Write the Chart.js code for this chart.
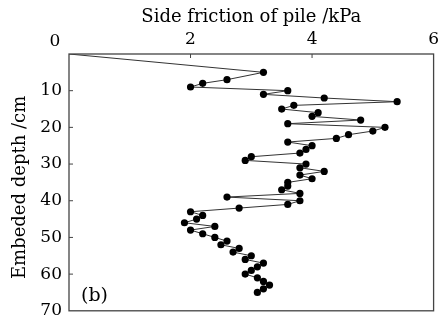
<!DOCTYPE html>
<html>
<head>
<meta charset="utf-8">
<script src="https://cdn.jsdelivr.net/npm/chart.js@4.4.0/dist/chart.umd.min.js"></script>
<style>
  html, body { margin: 0; padding: 0; background: #fff; }
  #wrap { width: 443px; height: 328px; }
</style>
</head>
<body>
<div id="wrap"><canvas id="chart"></canvas></div>
<script>
// embedded depth (cm) and side friction (kPa)
const depth = [0, 5, 7, 8, 9, 10, 11, 12, 13, 14, 15, 16, 17, 18, 19, 20,
  21, 22, 23, 24, 25, 26, 27, 28, 29, 30, 31, 32, 33, 34, 35, 36, 37, 38,
  39, 40, 41, 42, 43, 44, 45, 46, 47, 48, 49, 50, 51, 52, 53, 54, 55, 56,
  57, 58, 59, 60, 61, 62, 63, 64, 65];
const friction = [0, 3.2, 2.6, 2.2, 2.0, 3.6, 3.2, 4.2, 5.4, 3.7, 3.5, 4.1,
  4.0, 4.8, 3.6, 5.2, 5.0, 4.6, 4.4, 3.6, 4.0, 3.9, 3.8, 3.0, 2.9, 3.9, 3.8,
  4.2, 3.8, 4.0, 3.6, 3.6, 3.5, 3.8, 2.6, 3.8, 3.6, 2.8, 2.0, 2.2, 2.1, 1.9,
  2.4, 2.0, 2.2, 2.4, 2.6, 2.5, 2.8, 2.7, 3.0, 2.9, 3.2, 3.1, 3.0, 2.9, 3.1,
  3.2, 3.3, 3.2, 3.1];

const xTicks = [0, 2, 4, 6];
const yTicks = [0, 10, 20, 30, 40, 50, 60, 70];

const serif = "'DejaVu Serif', serif";

// frame, inward ticks, the shared "0", y title and the panel tag
const framePlugin = {
  id: "frame",
  afterDraw(chart) {
    const { ctx, chartArea: a, scales } = chart;
    ctx.save();
    ctx.strokeStyle = "#444";
    ctx.lineWidth = 1.3;
    ctx.strokeRect(a.left, a.top, a.right - a.left, a.bottom - a.top);

    ctx.lineWidth = 1;
    ctx.beginPath();
    xTicks.slice(1, -1).forEach((v) => {
      const px = scales.x.getPixelForValue(v);
      ctx.moveTo(px, a.top);
      ctx.lineTo(px, a.top + 4);
    });
    yTicks.slice(1, -1).forEach((v) => {
      const py = scales.y.getPixelForValue(v);
      ctx.moveTo(a.left, py);
      ctx.lineTo(a.left + 4, py);
    });
    ctx.stroke();

    ctx.fillStyle = "#000";
    ctx.font = "17px " + serif;
    ctx.textAlign = "center";
    ctx.textBaseline = "middle";
    ctx.fillText("0", a.left - 14, 42);

    // y axis title, a bit below the middle as in the original
    ctx.save();
    ctx.translate(20, (a.top + a.bottom) / 2 + 5);
    ctx.rotate(-Math.PI / 2);
    ctx.font = "18px " + serif;
    ctx.fillText("Embeded depth /cm", 0, 0);
    ctx.restore();

    ctx.font = "19px " + serif;
    ctx.textAlign = "left";
    ctx.fillText("(b)", a.left + 12, scales.y.getPixelForValue(66));
    ctx.restore();
  },
};

const points = depth.map((d, i) => ({ x: friction[i], y: d }));

new Chart(document.getElementById("chart"), {
  type: "scatter",
  data: {
    datasets: [
      {
        data: points,
        showLine: true,
        borderColor: "#333",
        borderWidth: 1,
        backgroundColor: "#000",
        pointBackgroundColor: "#000",
        pointBorderWidth: 0,
        pointRadius: (c) => (c.dataIndex === 0 ? 0 : 3.6),
      },
    ],
  },
  options: {
    responsive: true,
    maintainAspectRatio: false,
    animation: false,
    layout: { padding: { top: 0, right: 7, bottom: 9, left: 0 } },
    plugins: { legend: { display: false }, tooltip: { enabled: false } },
    scales: {
      x: {
        type: "linear",
        position: "top",
        min: 0,
        max: 6,
        afterBuildTicks: (s) => { s.ticks = xTicks.map((v) => ({ value: v })); },
        afterFit: (s) => { s.height = 54; },
        ticks: {
          color: "#000",
          font: { family: serif, size: 17 },
          padding: 4,
          maxRotation: 0,
          callback: (v) => (v === 0 ? "" : v),
        },
        grid: { display: false, drawTicks: false },
        border: { display: false },
        title: {
          display: true,
          text: "Side friction of pile /kPa",
          color: "#000",
          font: { family: serif, size: 18 },
          padding: { top: 7, bottom: 0 },
        },
      },
      y: {
        type: "linear",
        reverse: true,
        min: 0,
        max: 70,
        afterBuildTicks: (s) => { s.ticks = yTicks.map((v) => ({ value: v })); },
        afterFit: (s) => { s.width = 69; },
        ticks: {
          color: "#000",
          font: { family: serif, size: 17 },
          padding: 7,
          callback: (v) => (v === 0 ? "" : v),
        },
        grid: { display: false, drawTicks: false },
        border: { display: false },
        title: { display: false },
      },
    },
  },
  plugins: [framePlugin],
});
</script>
</body>
</html>
